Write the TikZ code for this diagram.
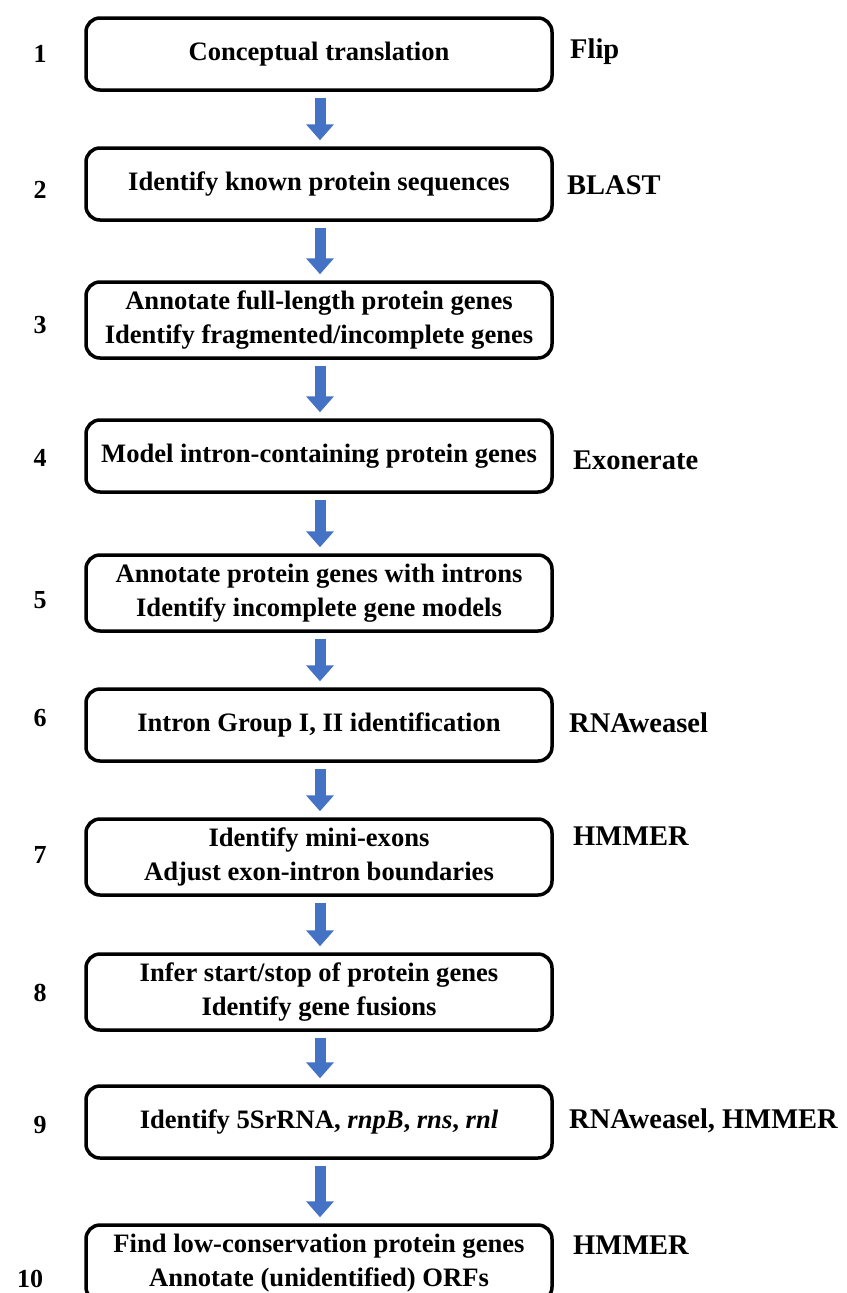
\documentclass[tikz,border=0pt]{standalone}
\usepackage{fontspec}
\setmainfont{Liberation Serif}
\usetikzlibrary{arrows.meta}
\definecolor{arrblue}{RGB}{68,114,196}
\tikzset{
  stepbox/.style={draw=black, line width=3.5pt, rounded corners=14pt, minimum width=466pt, minimum height=72pt, align=center, inner sep=0pt, font=\fontsize{26.6}{34}\selectfont\bfseries},
  twoline/.style={minimum height=76pt},
  num/.style={font=\fontsize{26}{30}\selectfont\bfseries, inner sep=0pt},
  tool/.style={font=\fontsize{28.5}{32}\selectfont\bfseries, inner sep=0pt, anchor=west},
  flow/.style={draw=arrblue, line width=11pt, -{Triangle[width=27pt,length=16pt]}, arrblue, shorten <=6pt, shorten >=6pt}
}
\begin{document}
\begin{tikzpicture}[x=1pt,y=-1pt]
\useasboundingbox (0,0) rectangle (846,1293);
\clip (0,0) rectangle (846,1293);
\node[stepbox] (b1) at (319,54) {Conceptual translation};
\node[stepbox] (b2) at (319,184) {Identify known protein sequences};
\node[stepbox,twoline] (b3) at (319,320) {Annotate full-length protein genes\\Identify fragmented/incomplete genes};
\node[stepbox] (b4) at (319,456) {Model intron-containing protein genes};
\node[stepbox,twoline] (b5) at (319,593) {Annotate protein genes with introns\\Identify incomplete gene models};
\node[stepbox] (b6) at (319,725) {Intron Group I, II identification};
\node[stepbox,twoline] (b7) at (319,857) {Identify mini-exons\\Adjust exon-intron boundaries};
\node[stepbox,twoline] (b8) at (319,992) {Infer start/stop of protein genes\\Identify gene fusions};
\node[stepbox] (b9) at (319,1122) {Identify 5SrRNA, \textit{rnpB}, \textit{rns}, \textit{rnl}};
\node[stepbox,twoline] (b10) at (319,1263) {Find low-conservation protein genes\\Annotate (unidentified) ORFs};
\node[num] (n1) at (40,54) {1};
\node[num] (n2) at (40,190) {2};
\node[num] (n3) at (40,325) {3};
\node[num] (n4) at (40,458) {4};
\node[num] (n5) at (40,600) {5};
\node[num] (n6) at (40,718) {6};
\node[num] (n7) at (40,855) {7};
\node[num] (n8) at (40,993) {8};
\node[num] (n9) at (40,1125) {9};
\node[num] (n10) at (30,1279) {10};
\node[tool] (t1) at (570,52) {Flip};
\node[tool] (t2) at (567,185) {BLAST};
\node[tool] (t4) at (573,460) {Exonerate};
\node[tool] (t6) at (569,723) {RNAweasel};
\node[tool] (t7) at (573,836) {HMMER};
\node[tool] (t9) at (569,1121) {RNAweasel, HMMER};
\node[tool] (t10) at (573,1245) {HMMER};
\foreach \a/\b in {b1/b2,b2/b3,b3/b4,b4/b5,b5/b6,b6/b7,b7/b8,b8/b9,b9/b10}
  \draw[flow] ([xshift=1pt]\a.south) -- ([xshift=1pt]\b.north);
\end{tikzpicture}
\end{document}
